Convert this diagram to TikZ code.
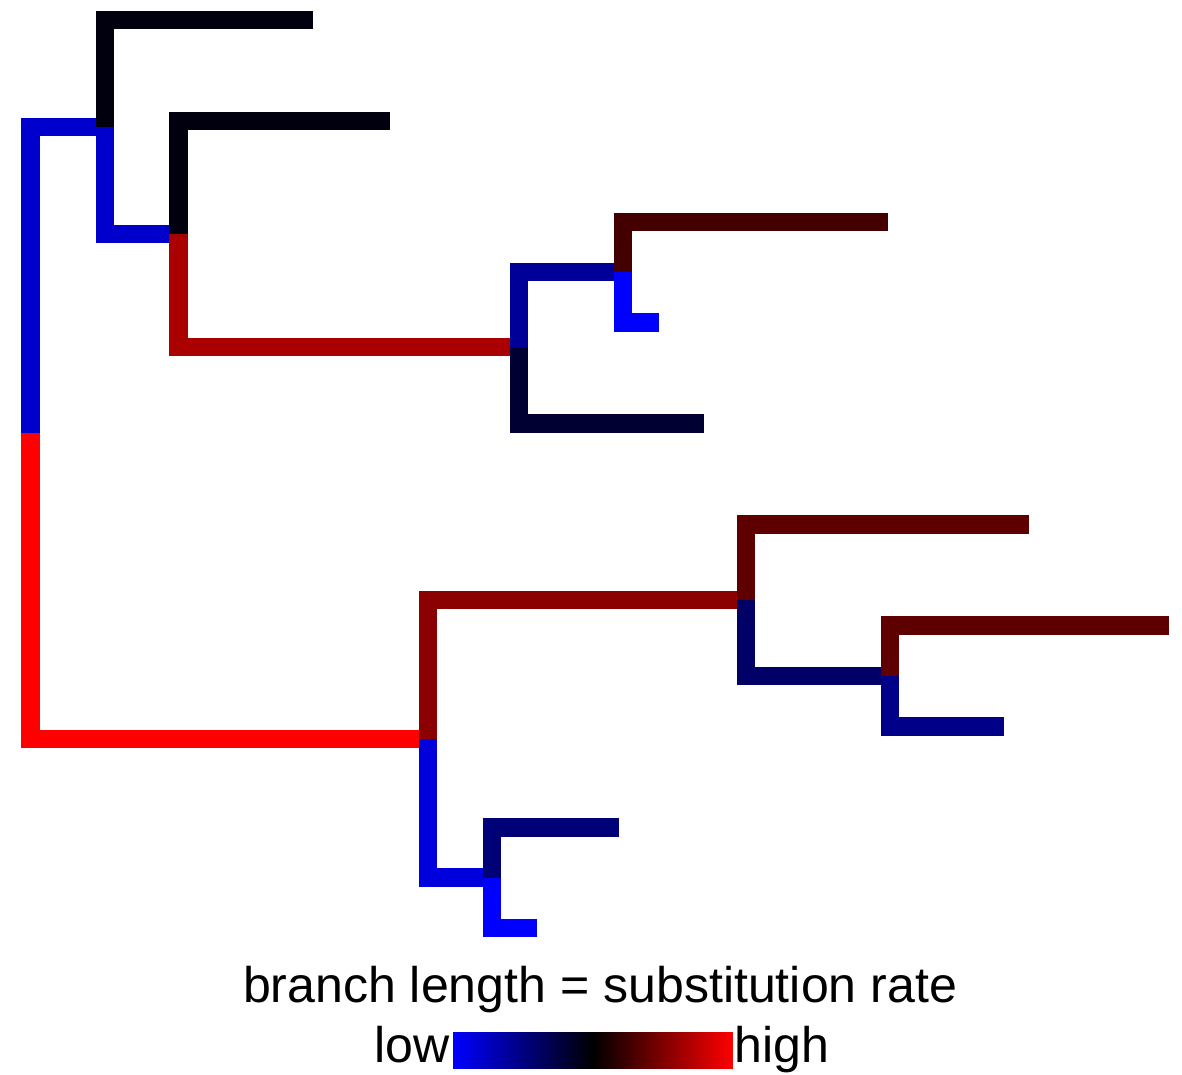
\documentclass[tikz,border=0pt]{standalone}
\usepackage{fontspec}
\setmainfont{Liberation Sans}
\usetikzlibrary{positioning}
\definecolor{rate1}{RGB}{0,0,255}
\definecolor{rate2}{RGB}{0,0,221}
\definecolor{rate3}{RGB}{0,0,204}
\definecolor{rate4}{RGB}{0,0,153}
\definecolor{rate5}{RGB}{0,0,136}
\definecolor{rate6}{RGB}{0,0,119}
\definecolor{rate7}{RGB}{0,0,102}
\definecolor{rate8}{RGB}{0,0,51}
\definecolor{rate9}{RGB}{0,0,15}
\definecolor{rate10}{RGB}{68,0,0}
\definecolor{rate11}{RGB}{94,0,0}
\definecolor{rate12}{RGB}{139,0,0}
\definecolor{rate13}{RGB}{170,0,0}
\definecolor{rate14}{RGB}{255,0,0}

\begin{document}
\begin{tikzpicture}[x=0.02cm,y=-0.02cm,branch/.style={line width=0.37cm,line join=miter,line cap=butt},
                    legend text/.style={inner sep=0pt,font=\fontsize{28.5}{34}\selectfont}]
                        \useasboundingbox (0,0) rectangle (1182,1074);
                        % inner nodes
                        \coordinate (root) at (30.5,433);
                        \coordinate (1) at (105,127);
                        \coordinate (2) at (178.5,234);
                        \coordinate (3) at (519,347);
                        \coordinate (4) at (623,272);
                        \coordinate (5) at (428,739);
                        \coordinate (6) at (746,600);
                        \coordinate (7) at (890,676);
                        \coordinate (8) at (492,877.5);
                        % tips
                        \coordinate (t1) at (313,20);
                        \coordinate (t2) at (390,121);
                        \coordinate (t3) at (888,222);
                        \coordinate (t4) at (659,322.5);
                        \coordinate (t5) at (704,423.5);
                        \coordinate (t6) at (1029,524.5);
                        \coordinate (t7) at (1169,625.5);
                        \coordinate (t8) at (1004,726.5);
                        \coordinate (t9) at (619,827.5);
                        \coordinate (t10) at (536.5,928);

                        \draw[branch,rate3] (root) |- (1);
                        \draw[branch,rate9] (1) |- (t1);
                        \draw[branch,rate3] (1) |- (2);
                        \draw[branch,rate9] (2) |- (t2);
                        \draw[branch,rate13] (2) |- (3);
                        \draw[branch,rate4] (3) |- (4);
                        \draw[branch,rate10] (4) |- (t3);
                        \draw[branch,rate1] (4) |- (t4);
                        \draw[branch,rate8] (3) |- (t5);
                        \draw[branch,rate14] (root) |- (5);
                        \draw[branch,rate12] (5) |- (6);
                        \draw[branch,rate11] (6) |- (t6);
                        \draw[branch,rate7] (6) |- (7);
                        \draw[branch,rate11] (7) |- (t7);
                        \draw[branch,rate5] (7) |- (t8);
                        \draw[branch,rate2] (5) |- (8);
                        \draw[branch,rate6] (8) |- (t9);
                        \draw[branch,rate1] (8) |- (t10);

                        % legend
                        \node[legend text,anchor=base] (title) at (600,1002) {branch length = substitution rate};
                        \node[inner sep=0pt,minimum width=5.6cm,minimum height=0.72cm,
                              left color=rate1,right color=rate14,middle color=black] (bar) at (593,1050) {};
                        \node[legend text,anchor=base east] (low) at (450,1062) {low};
                        \node[legend text,anchor=base west] (high) at (734,1062) {high};
        \end{tikzpicture}
\end{document}
